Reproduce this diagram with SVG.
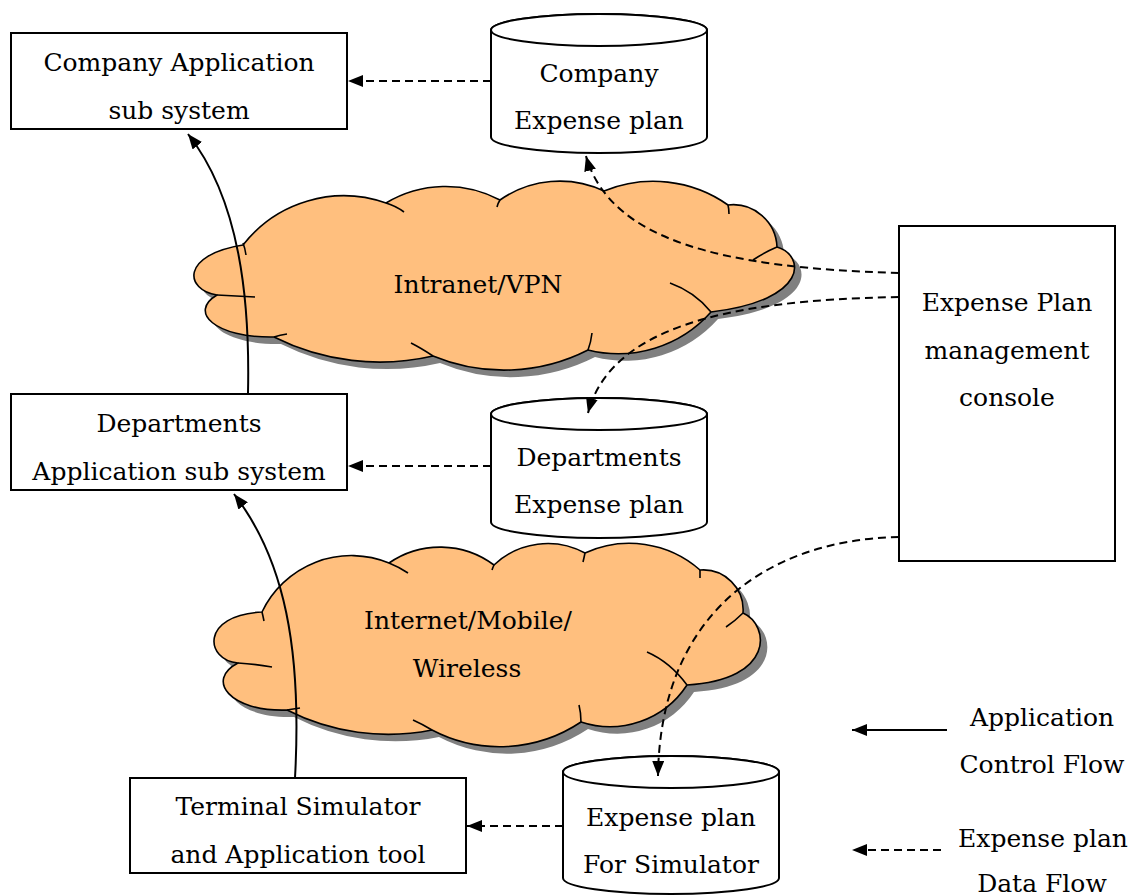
<svg xmlns="http://www.w3.org/2000/svg" width="1137" height="896" viewBox="0 0 1137 896">
<style>
.t{font-family:"DejaVu Serif","Liberation Serif",serif;font-size:25px;text-anchor:middle;fill:#000}
.box{fill:#fff;stroke:#000;stroke-width:2}
.cyl{fill:#fff;stroke:#000;stroke-width:2}
.cloud{fill:#FFBF7E;stroke:#000;stroke-width:1.6;stroke-linejoin:round}
.shadow{fill:#808080;stroke:none}
.tail{fill:none;stroke:#000;stroke-width:1.6}
.solid{fill:none;stroke:#000;stroke-width:2}
.dash{fill:none;stroke:#000;stroke-width:2;stroke-dasharray:8 5}
</style>
<defs>
<marker id="ah" viewBox="0 0 15 12" refX="15" refY="6" markerWidth="15" markerHeight="12" orient="auto" markerUnits="userSpaceOnUse">
<path d="M0,0 L15,6 L0,12 Z" fill="#000"/>
</marker>
<path id="c1" d="M243 245 A127.6 127.6 0 0 1 386 203 A116 116 0 0 1 500 200 A104 104 0 0 1 604 191 A130 130 0 0 1 728 205 A44 44 0 0 1 777 247 C805,255 810,300 711,312 A124 124 0 0 1 588 350 A185 185 0 0 1 433 356 A236 236 0 0 1 274 337 C215,338 188,312 217,295 C185,290 180,255 243,245 Z"/>
<path id="c2" d="M262 612 A99 99 0 0 1 389 563 A90 90 0 0 1 494 565 A78 78 0 0 1 585 553 A107 107 0 0 1 700 570 A40 40 0 0 1 743 613 C770,625 775,680 687,685 A92 92 0 0 1 581 722 A146 146 0 0 1 432 730 A223 223 0 0 1 287 710 C230,712 205,680 238,663 C205,660 200,615 262,612 Z"/>
</defs>

<g id="cloud-intranet">
<use href="#c1" class="shadow" transform="translate(7,7)"/>
<use href="#c1" class="cloud"/>
<path class="tail" d="M243,243 Q245,248 246,255 M386,203 Q396,206 404,212 M500,200 Q498,203 497,207 M728,205 Q729,209 729,214 M777,247 Q765,252 753,260 M711,312 Q695,292 670,283 M588,350 Q591,342 592,333 M433,356 Q421,348 411,343 M274,337 Q280,335 287,334 M217,295 Q235,296 255,297"/>
<text class="t" x="478" y="293">Intranet/VPN</text>
</g>

<g id="cloud-internet">
<use href="#c2" class="shadow" transform="translate(7,7)"/>
<use href="#c2" class="cloud"/>
<path class="tail" d="M262,612 Q263,616 264,621 M389,563 Q399,567 408,573 M494,565 Q493,567 492,570 M585,553 Q584,558 583,562 M700,570 Q700,574 700,578 M743,613 Q735,621 726,627 M687,685 Q670,662 647,652 M581,722 Q581,713 579,705 M432,730 Q422,724 413,720 M287,710 Q293,709 300,708 M238,663 Q255,664 272,667"/>
<text class="t" x="468" y="629">Internet/Mobile/</text>
<text class="t" x="467" y="677">Wireless</text>
</g>

<g id="company-app">
<rect class="box" x="11" y="33" width="336" height="96"/>
<text class="t" x="179" y="71">Company Application</text>
<text class="t" x="179" y="119">sub system</text>
</g>

<g id="company-plan">
<path class="cyl" d="M491,30 V137 A108,16 0 0 0 707,137 V30 A108,16 0 0 0 491,30 Z"/>
<ellipse class="cyl" cx="599" cy="30" rx="108" ry="16"/>
<text class="t" x="599" y="82">Company</text>
<text class="t" x="599" y="129">Expense plan</text>
</g>

<g id="dept-app">
<rect class="box" x="11" y="394" width="336" height="96"/>
<text class="t" x="179" y="432">Departments</text>
<text class="t" x="179" y="480">Application sub system</text>
</g>

<g id="dept-plan">
<path class="cyl" d="M491,414 V522 A108,16 0 0 0 707,522 V414 A108,16 0 0 0 491,414 Z"/>
<ellipse class="cyl" cx="599" cy="414" rx="108" ry="16"/>
<text class="t" x="599" y="466">Departments</text>
<text class="t" x="599" y="513">Expense plan</text>
</g>

<g id="console">
<rect class="box" x="899" y="226" width="216" height="335"/>
<text class="t" x="1007" y="311">Expense Plan</text>
<text class="t" x="1007" y="359">management</text>
<text class="t" x="1007" y="406">console</text>
</g>

<g id="terminal">
<rect class="box" x="130" y="778" width="336" height="95"/>
<text class="t" x="298" y="815">Terminal Simulator</text>
<text class="t" x="298" y="863">and Application tool</text>
</g>

<g id="sim-plan">
<path class="cyl" d="M563,772 V878 A108,16 0 0 0 779,878 V772 A108,16 0 0 0 563,772 Z"/>
<ellipse class="cyl" cx="671" cy="772" rx="108" ry="16"/>
<text class="t" x="671" y="826">Expense plan</text>
<text class="t" x="671" y="873">For Simulator</text>
</g>

<g id="legend">
<text class="t" x="1042" y="726">Application</text>
<text class="t" x="1042" y="773">Control Flow</text>
<text class="t" x="1043" y="847">Expense plan</text>
<text class="t" x="1042" y="892">Data Flow</text>
</g>

<g id="connectors">
<path class="solid" d="M248,393 C250,300 240,200 188,134" marker-end="url(#ah)"/>
<path class="solid" d="M295,778 C302,650 285,560 234,494" marker-end="url(#ah)"/>
<path class="dash" d="M491,81 H348" marker-end="url(#ah)"/>
<path class="dash" d="M491,466 H348" marker-end="url(#ah)"/>
<path class="dash" d="M563,826 H467" marker-end="url(#ah)"/>
<path class="dash" d="M899,273 C720,268 610,240 586,156" marker-end="url(#ah)"/>
<path class="dash" d="M899,297 C720,300 610,330 588,413" marker-end="url(#ah)"/>
<path class="dash" d="M899,537 C760,540 660,620 658,776" marker-end="url(#ah)"/>
<path class="solid" d="M947,730 H852" marker-end="url(#ah)"/>
<path class="dash" d="M941,850 H852" marker-end="url(#ah)"/>
</g>
</svg>
